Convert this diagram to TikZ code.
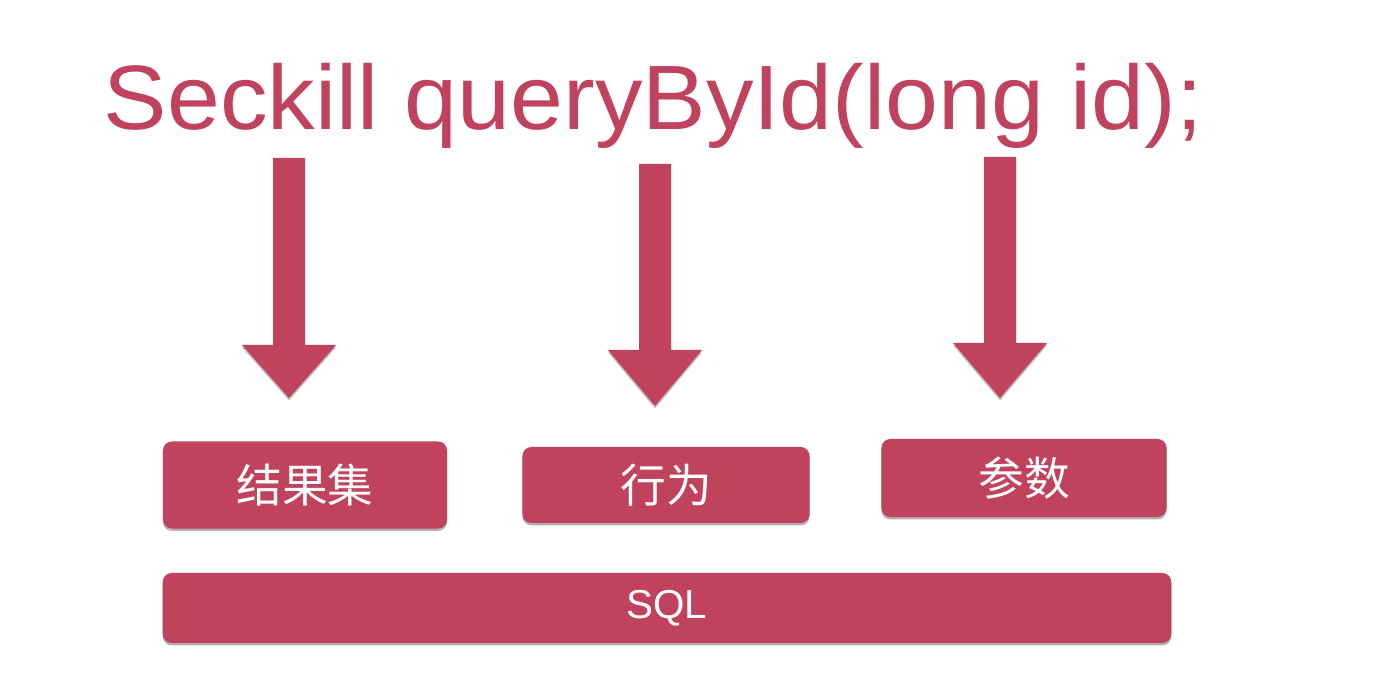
\documentclass[tikz,border=0pt]{standalone}
\usepackage{fontspec}
\setmainfont{Liberation Sans}
\newfontfamily\titlefont[FakeStretch=1.04]{Liberation Sans}
\newfontfamily\cjkfont{Noto Sans CJK SC}
\usetikzlibrary{positioning, shadows}

\definecolor{seckillred}{RGB}{192,66,92}

\begin{document}
\begin{tikzpicture}[
    x=0.01cm, y=-0.01cm,
    box/.style={rectangle, rounded corners=0.09cm, fill=seckillred, text=white,
        inner sep=0pt, align=center,
        drop shadow={shadow xshift=0pt, shadow yshift=-0.7pt, opacity=0.3, fill=black}},
    cjkbox/.style={box, font=\cjkfont\fontsize{13}{15}\selectfont},
    title/.style={text=seckillred, font=\titlefont\fontsize{26}{31}\selectfont, inner sep=0pt, anchor=base west}
]
\useasboundingbox (0,0) rectangle (1400,683);

% ============= TITLE =============
\node[title] (sig) at (103,130) {Seckill queryById(long id);};

% ============= ARROWS =============
\foreach \cx/\top/\neck/\tip in {289/158/345/398, 655/164/350/406, 1000/157/343/398} {
    \fill[seckillred, drop shadow={shadow xshift=0pt, shadow yshift=-0.7pt, opacity=0.25, fill=black}]
        ({\cx-16},\top) -- ({\cx+16},\top) -- ({\cx+16},\neck) -- ({\cx+47},\neck)
        -- (\cx,\tip) -- ({\cx-47},\neck) -- ({\cx-16},\neck) -- cycle;
}

% ============= BOXES =============
\node[cjkbox, minimum width=2.84cm, minimum height=0.87cm] (result) at (305,485) {结果集};
\node[cjkbox, minimum width=2.87cm, minimum height=0.76cm] (action) at (666,485) {行为};
\node[cjkbox, minimum width=2.85cm, minimum height=0.78cm] (param) at (1024,478) {参数};

% SQL bar
\node[box, font=\fontsize{11.5}{14}\selectfont, minimum width=10.08cm, minimum height=0.70cm] (sql) at (667,608) {SQL};

\end{tikzpicture}
\end{document}
